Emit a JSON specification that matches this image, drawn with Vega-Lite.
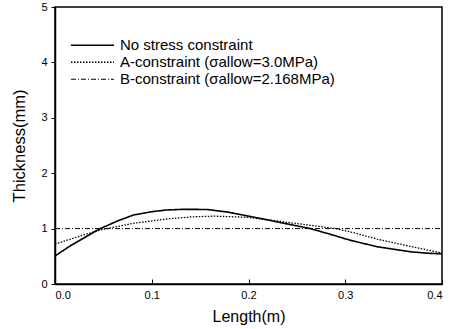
{
  "$schema": "https://vega.github.io/schema/vega-lite/v6.json",
  "width": 387,
  "height": 277,
  "autosize": {"type": "none"},
  "padding": {"left": 55, "top": 7, "right": 13, "bottom": 45},
  "background": "white",
  "config": {
    "font": "Liberation Sans",
    "view": {"stroke": "black", "strokeWidth": 1.5},
    "axis": {"domainColor": "black", "tickColor": "black", "labelColor": "black", "titleColor": "black", "domainWidth": 1.5, "grid": false}
  },
  "data": {"values": [
    {"series": "No stress constraint", "x": 0.0, "y": 0.505},
    {"series": "No stress constraint", "x": 0.015, "y": 0.68},
    {"series": "No stress constraint", "x": 0.0293, "y": 0.825},
    {"series": "No stress constraint", "x": 0.0466, "y": 0.998},
    {"series": "No stress constraint", "x": 0.065, "y": 1.14},
    {"series": "No stress constraint", "x": 0.081, "y": 1.245},
    {"series": "No stress constraint", "x": 0.1, "y": 1.305},
    {"series": "No stress constraint", "x": 0.1155, "y": 1.336},
    {"series": "No stress constraint", "x": 0.133, "y": 1.348},
    {"series": "No stress constraint", "x": 0.157, "y": 1.345},
    {"series": "No stress constraint", "x": 0.178, "y": 1.3},
    {"series": "No stress constraint", "x": 0.2, "y": 1.225},
    {"series": "No stress constraint", "x": 0.222, "y": 1.15},
    {"series": "No stress constraint", "x": 0.2327, "y": 1.11},
    {"series": "No stress constraint", "x": 0.264, "y": 1.0},
    {"series": "No stress constraint", "x": 0.285, "y": 0.895},
    {"series": "No stress constraint", "x": 0.305, "y": 0.79},
    {"series": "No stress constraint", "x": 0.333, "y": 0.673},
    {"series": "No stress constraint", "x": 0.367, "y": 0.583},
    {"series": "No stress constraint", "x": 0.385, "y": 0.555},
    {"series": "No stress constraint", "x": 0.4, "y": 0.545},
    {"series": "A-constraint (σallow=3.0MPa)", "x": 0.0, "y": 0.72},
    {"series": "A-constraint (σallow=3.0MPa)", "x": 0.0293, "y": 0.884},
    {"series": "A-constraint (σallow=3.0MPa)", "x": 0.0466, "y": 0.975},
    {"series": "A-constraint (σallow=3.0MPa)", "x": 0.081, "y": 1.095},
    {"series": "A-constraint (σallow=3.0MPa)", "x": 0.1155, "y": 1.173},
    {"series": "A-constraint (σallow=3.0MPa)", "x": 0.14, "y": 1.21},
    {"series": "A-constraint (σallow=3.0MPa)", "x": 0.1637, "y": 1.225},
    {"series": "A-constraint (σallow=3.0MPa)", "x": 0.198, "y": 1.205},
    {"series": "A-constraint (σallow=3.0MPa)", "x": 0.2327, "y": 1.13},
    {"series": "A-constraint (σallow=3.0MPa)", "x": 0.264, "y": 1.06},
    {"series": "A-constraint (σallow=3.0MPa)", "x": 0.29, "y": 1.0},
    {"series": "A-constraint (σallow=3.0MPa)", "x": 0.31, "y": 0.92},
    {"series": "A-constraint (σallow=3.0MPa)", "x": 0.333, "y": 0.81},
    {"series": "A-constraint (σallow=3.0MPa)", "x": 0.367, "y": 0.68},
    {"series": "A-constraint (σallow=3.0MPa)", "x": 0.4, "y": 0.56},
    {"series": "B-constraint (σallow=2.168MPa)", "x": 0.0, "y": 1.0},
    {"series": "B-constraint (σallow=2.168MPa)", "x": 0.4, "y": 1.0}
  ]},
  "mark": {"type": "line", "color": "black"},
  "encoding": {
    "x": {"field": "x", "type": "quantitative", "scale": {"domain": [0, 0.4], "nice": false},
      "axis": {"title": "Length(m)", "values": [0, 0.1, 0.2, 0.3, 0.4], "format": ".1f", "labelFontSize": 11, "titleFontSize": 16, "titleFontWeight": "normal", "tickSize": -5, "labelPadding": 10, "titlePadding": 8}},
    "y": {"field": "y", "type": "quantitative", "scale": {"domain": [0, 5], "nice": false},
      "axis": {"title": "Thickness(mm)", "values": [0, 1, 2, 3, 4, 5], "format": "d", "labelFontSize": 11, "titleFontSize": 16.5, "titleFontWeight": "normal", "tickSize": 4, "labelPadding": 4, "titlePadding": 13}},
    "strokeDash": {"field": "series", "type": "nominal",
      "scale": {"domain": ["No stress constraint", "A-constraint (σallow=3.0MPa)", "B-constraint (σallow=2.168MPa)"], "range": [[1, 0], [1.5, 1.5], [5, 2, 1, 2]]},
      "legend": {"title": null, "orient": "none", "legendX": 15, "legendY": 30, "symbolType": "stroke", "symbolSize": 1850, "symbolStrokeColor": "black", "symbolStrokeWidth": 1.2, "labelFontSize": 15, "labelColor": "black", "labelLimit": 0, "clipHeight": 16.5, "rowPadding": 0, "labelOffset": 5}},
    "strokeWidth": {"field": "series", "type": "nominal", "scale": {"domain": ["No stress constraint", "A-constraint (σallow=3.0MPa)", "B-constraint (σallow=2.168MPa)"], "range": [1.6, 1, 1]}, "legend": null}
  }
}
